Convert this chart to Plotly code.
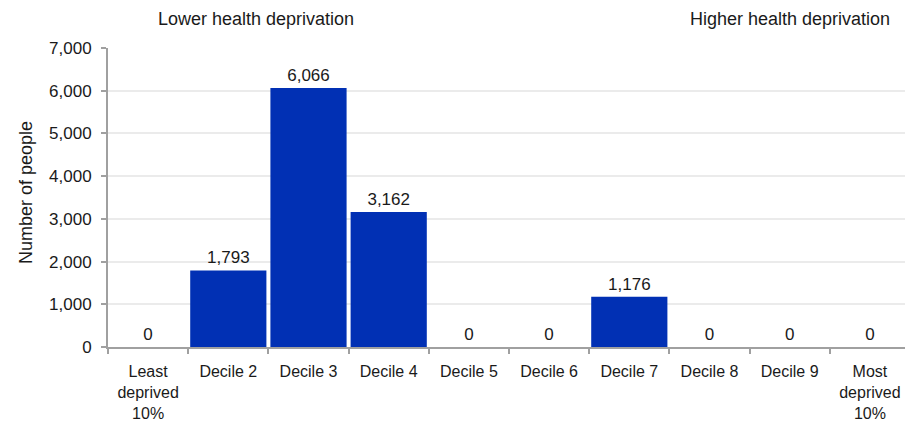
import plotly.graph_objects as go

categories = ["Least<br>deprived<br>10%", "Decile 2", "Decile 3", "Decile 4", "Decile 5",
              "Decile 6", "Decile 7", "Decile 8", "Decile 9", "Most<br>deprived<br>10%"]
people = [0, 1793, 6066, 3162, 0, 0, 1176, 0, 0, 0]
y_ticks = [0, 1000, 2000, 3000, 4000, 5000, 6000, 7000]

FONT = "Liberation Sans, Arial, sans-serif"

fig = go.Figure(go.Bar(
    x=categories, y=people,
    marker=dict(color="#0130b4", line=dict(width=0)),
    texttemplate="%{y:,}", textposition="outside",
    textfont=dict(family=FONT, size=17, color="#1a1a1a"),
    cliponaxis=False,
))

# the page body adds an 8px offset; compensate in size/margins
fig.update_layout(
    width=905, height=416,
    margin=dict(l=100, r=3, t=40, b=77),
    plot_bgcolor="white", paper_bgcolor="white",
    font=dict(family=FONT, size=17, color="#1a1a1a"),
    bargap=0.05,
    showlegend=False,
    xaxis=dict(
        type="category", tickson="boundaries", automargin=False,
        ticks="outside", ticklen=5, tickcolor="#a0a0a0", tickwidth=2,
        showline=True, linecolor="#a0a0a0", linewidth=2,
        tickfont=dict(size=16), ticklabelstandoff=9, showgrid=False,
    ),
    yaxis=dict(
        range=[0, 7000], tickvals=y_ticks, tickformat=",", automargin=False,
        ticks="outside", ticklen=5, tickcolor="#a0a0a0", tickwidth=2,
        showline=True, linecolor="#a0a0a0", linewidth=2,
        gridcolor="#ebebeb", gridwidth=2, zeroline=False,
        tickfont=dict(size=17), ticklabelstandoff=6,
    ),
    annotations=[
        dict(text="Number of people", xref="paper", yref="paper",
             x=0, xshift=-82, xanchor="center", y=0.515, yanchor="middle",
             textangle=-90, showarrow=False, font=dict(size=18)),
        dict(text="Lower health deprivation", xref="paper", yref="paper",
             x=0.184, xanchor="center", y=1, yshift=29, yanchor="middle",
             showarrow=False, font=dict(size=18)),
        dict(text="Higher health deprivation", xref="paper", yref="paper",
             x=0.85, xanchor="center", y=1, yshift=29, yanchor="middle",
             showarrow=False, font=dict(size=18)),
    ],
)

fig.write_html("out.html")
